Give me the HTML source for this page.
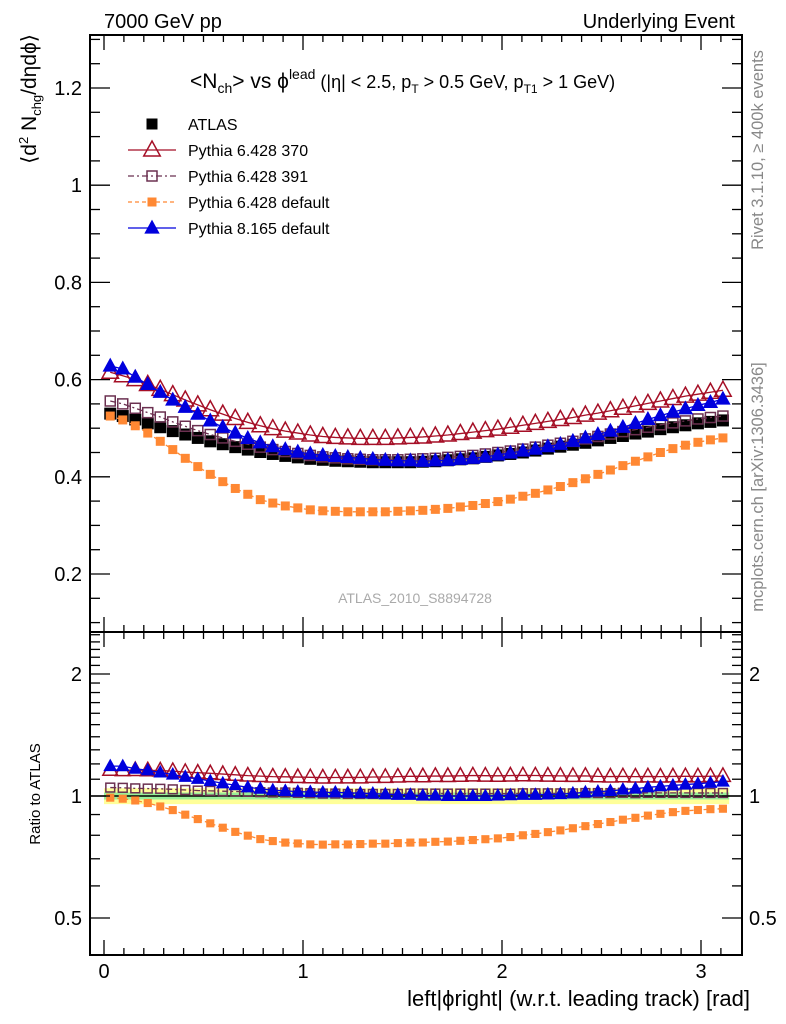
<!DOCTYPE html>
<html><head><meta charset="utf-8"><style>
body{margin:0;background:#fff}
svg{display:block;font-family:"Liberation Sans",sans-serif}
</style></head><body>
<svg id="chart" width="786" height="1024" viewBox="0 0 786 1024">
<text x="104" y="28" font-size="20">7000 GeV pp</text>
<text x="735" y="28" font-size="20" text-anchor="end">Underlying Event</text>
<text transform="translate(763,150) rotate(-90)" font-size="16.5" fill="#888" text-anchor="middle">Rivet 3.1.10, ≥ 400k events</text>
<text transform="translate(763,487) rotate(-90)" font-size="16.5" fill="#888" text-anchor="middle">mcplots.cern.ch [arXiv:1306.3436]</text>
<text transform="translate(36,34) rotate(-90)" font-size="21" text-anchor="end">⟨d<tspan font-size="13" dy="-8">2</tspan><tspan dy="8"> N</tspan><tspan font-size="13" dy="5">chg</tspan><tspan dy="-5">/dηdϕ⟩</tspan></text>
<text transform="translate(40,794) rotate(-90)" font-size="15" text-anchor="middle">Ratio to ATLAS</text>
<text x="750" y="1006" font-size="22" text-anchor="end">left|ϕright| (w.r.t. leading track) [rad]</text>
<text x="190" y="88" font-size="21">&lt;N<tspan font-size="14" dy="5">ch</tspan><tspan dy="-5">&gt; vs ϕ</tspan><tspan font-size="14" dy="-9">lead</tspan><tspan dy="9" font-size="18"> (|η| &lt; 2.5, p</tspan><tspan font-size="12" dy="5">T</tspan><tspan font-size="18" dy="-5"> &gt; 0.5 GeV, p</tspan><tspan font-size="12" dy="5">T1</tspan><tspan font-size="18" dy="-5"> &gt; 1 GeV)</tspan></text>
<text x="415" y="603" font-size="14" fill="#aaa" text-anchor="middle">ATLAS_2010_S8894728</text>
<g id="main"></g>
<g id="ratio"></g>
<g id="legend"></g>
</svg>
<script>
const atlas=[0.53,0.525,0.518,0.51,0.502,0.494,0.487,0.48,0.473,0.467,0.461,0.456,0.451,0.447,0.443,0.44,0.437,0.435,0.433,0.432,0.431,0.43,0.43,0.43,0.43,0.431,0.432,0.434,0.436,0.438,0.441,0.444,0.447,0.45,0.454,0.458,0.462,0.466,0.47,0.475,0.48,0.484,0.489,0.493,0.498,0.502,0.506,0.51,0.513,0.516];
const py370=[0.615,0.608,0.6,0.59,0.58,0.569,0.558,0.548,0.538,0.529,0.52,0.512,0.505,0.499,0.494,0.49,0.486,0.483,0.481,0.48,0.479,0.479,0.479,0.48,0.481,0.482,0.484,0.486,0.489,0.492,0.495,0.498,0.502,0.506,0.51,0.514,0.518,0.522,0.527,0.531,0.536,0.541,0.546,0.551,0.556,0.561,0.566,0.57,0.574,0.578];
const py391=[0.556,0.55,0.541,0.532,0.523,0.513,0.504,0.495,0.487,0.48,0.473,0.467,0.461,0.456,0.452,0.448,0.444,0.441,0.439,0.437,0.436,0.435,0.435,0.435,0.436,0.437,0.438,0.44,0.442,0.444,0.447,0.45,0.453,0.457,0.461,0.465,0.469,0.473,0.478,0.483,0.488,0.493,0.497,0.502,0.507,0.511,0.515,0.519,0.522,0.525];
const py6def=[0.525,0.517,0.505,0.49,0.473,0.456,0.438,0.421,0.405,0.39,0.376,0.364,0.353,0.346,0.34,0.336,0.332,0.33,0.329,0.328,0.328,0.328,0.328,0.329,0.33,0.331,0.333,0.335,0.338,0.341,0.345,0.349,0.354,0.36,0.366,0.373,0.38,0.388,0.396,0.405,0.414,0.423,0.432,0.441,0.45,0.458,0.465,0.471,0.476,0.48];
const py8=[0.628,0.622,0.605,0.59,0.574,0.558,0.543,0.529,0.515,0.502,0.49,0.479,0.47,0.462,0.456,0.451,0.447,0.444,0.442,0.44,0.438,0.436,0.434,0.433,0.433,0.432,0.433,0.434,0.436,0.438,0.441,0.445,0.449,0.453,0.457,0.462,0.467,0.473,0.48,0.487,0.494,0.502,0.51,0.518,0.526,0.533,0.54,0.547,0.553,0.56];
const xTicks=[0,1,2,3];
const yTicks=[0.2,0.4,0.6,0.8,1,1.2];
const rTicks=[0.5,1,2];
const legendNames=["ATLAS","Pythia 6.428 370","Pythia 6.428 391","Pythia 6.428 default","Pythia 8.165 default"];

const NS="http://www.w3.org/2000/svg";
const L=90,R=742,T=35,MB=632,RB=955;
const X=v=>104+v*199;
const Y=v=>574-(v-0.2)*486;
const YR=v=>796-Math.log2(v)*122;
function mk(p,tag,a){const e=document.createElementNS(NS,tag);for(const k in a)e.setAttribute(k,a[k]);p.appendChild(e);return e;}
const main=document.getElementById('main'),ratio=document.getElementById('ratio'),leg=document.getElementById('legend');
const n=atlas.length,bw=Math.PI/n;
const xs=atlas.map((_,i)=>(i+0.5)*bw);

const bandY=mk(ratio,'path',{d:`M${X(0)},${YR(1.045)}H${X(Math.PI)}V${YR(0.955)}H${X(0)}Z`,fill:'#ffff99'});


const bandG=mk(ratio,'path',{d:`M${X(0)},${YR(1.02)}H${X(Math.PI)}V${YR(0.98)}H${X(0)}Z`,fill:'#99ee99'});


const one=mk(ratio,'line',{x1:L,x2:R,y1:YR(1),y2:YR(1),stroke:'#000','stroke-width':1.5});



function marker(g,type,x,y,color,s){
  let e;
  if(type==='sq') e=mk(g,'rect',{x:x-s/2,y:y-s/2,width:s,height:s,fill:color});
  else if(type==='osq') e=mk(g,'rect',{x:x-s/2+1,y:y-s/2+1,width:s-2,height:s-2,fill:'none',stroke:color,'stroke-width':1.5});
  else if(type==='tri') e=mk(g,'path',{d:`M${x},${y-s*0.6}L${x+s*0.55},${y+s*0.4}L${x-s*0.55},${y+s*0.4}Z`,fill:color});
  else e=mk(g,'path',{d:`M${x},${y-s*0.6}L${x+s*0.55},${y+s*0.4}L${x-s*0.55},${y+s*0.4}Z`,fill:'none',stroke:color,'stroke-width':1.5});
  return e;
}
const series=[
 {name:'pythia-6-370',d:py370,c:'#a50f26',t:'otri',s:15,dash:''},
 {name:'pythia-6-391',d:py391,c:'#6b3050',t:'osq',s:12,dash:'6,3,2,3'},
 {name:'pythia-6-default',d:py6def,c:'#ff8833',t:'sq',s:9,dash:'4,3'},
 {name:'pythia-8-default',d:py8,c:'#0000dd',t:'tri',s:14,dash:''}
];
atlas.forEach((v,i)=>{const m=marker(main,'sq',X(xs[i]),Y(v),'#000',12);
 
 });
series.forEach(S=>{
  const g=mk(main,'g',{});
  
  
  const pl=mk(g,'polyline',{points:S.d.map((v,i)=>X(xs[i])+','+Y(v)).join(' '),fill:'none',stroke:S.c,'stroke-width':1.3,'stroke-dasharray':S.dash});
  
  
  S.d.forEach((v,i)=>{const m=marker(g,S.t,X(xs[i]),Y(v),S.c,S.s);
    
    });
  const gr=mk(ratio,'g',{});
  
  
  const rl=mk(gr,'polyline',{points:S.d.map((v,i)=>X(xs[i])+','+YR(v/atlas[i])).join(' '),fill:'none',stroke:S.c,'stroke-width':1.3,'stroke-dasharray':S.dash});
  
  
  S.d.forEach((v,i)=>{const m=marker(gr,S.t,X(xs[i]),YR(v/atlas[i]),S.c,S.s*0.9);
    
    });
});
[[T,MB],[MB,RB]].forEach(([a,b],k)=>{const f=mk(k?ratio:main,'rect',{x:L,y:a,width:R-L,height:b-a,fill:'none',stroke:'#000','stroke-width':2});
 
 });
for(let k=0;k<=31;k++){const v=k/10;const maj=k%10===0;
  [[T,1],[MB,-1],[MB,1],[RB,-1]].forEach(([y0,d])=>{mk(main,'line',{x1:X(v),x2:X(v),y1:y0,y2:y0+d*(maj?15:7),stroke:'#000','stroke-width':1.3});});}
xTicks.forEach(v=>{const t=mk(ratio,'text',{x:X(v),y:978,'font-size':20,'text-anchor':'middle'});t.textContent=v;
 
 });
for(let k=2;k<=26;k++){const v=k*0.05;if(Y(v)<T||Y(v)>MB)continue;const maj=k%4===0;
  mk(main,'line',{x1:L,x2:L+(maj?20:10),y1:Y(v),y2:Y(v),stroke:'#000','stroke-width':1.3});
  mk(main,'line',{x1:R,x2:R-(maj?20:10),y1:Y(v),y2:Y(v),stroke:'#000','stroke-width':1.3});}
yTicks.forEach(v=>{const t=mk(main,'text',{x:82,y:Y(v)+7,'font-size':20,'text-anchor':'end'});t.textContent=String(v);
 
 });
[0.5,0.6,0.7,0.8,0.9,1,1.1,1.2,1.3,1.4,1.5,1.6,1.7,1.8,1.9,2,2.1,2.2,2.3,2.4,2.5].forEach(v=>{const maj=rTicks.includes(v);
  mk(ratio,'line',{x1:L,x2:L+(maj?20:10),y1:YR(v),y2:YR(v),stroke:'#000','stroke-width':1.3});
  mk(ratio,'line',{x1:R,x2:R-(maj?20:10),y1:YR(v),y2:YR(v),stroke:'#000','stroke-width':1.3});});
rTicks.forEach(v=>{[[82,'end'],[749,'start']].forEach(([x,a])=>{const t=mk(ratio,'text',{x:x,y:YR(v)+7,'font-size':20,'text-anchor':a});t.textContent=String(v);
 
 });});
const legSer=[{c:'#000',t:'sq',s:11,dash:null}].concat(series);
legendNames.forEach((nm,i)=>{const y=124+i*26;
  const g=mk(leg,'g',{});
  
  
  const S=legSer[i];
  if(S.dash!==null) mk(g,'line',{x1:128,x2:176,y1:y,y2:y,stroke:S.c,'stroke-width':1.3,'stroke-dasharray':S.dash});
  marker(g,S.t,152,y,S.c,S.s);
  const t=mk(g,'text',{x:188,y:y+6,'font-size':16});t.textContent=nm;});
</script>
</body></html>
